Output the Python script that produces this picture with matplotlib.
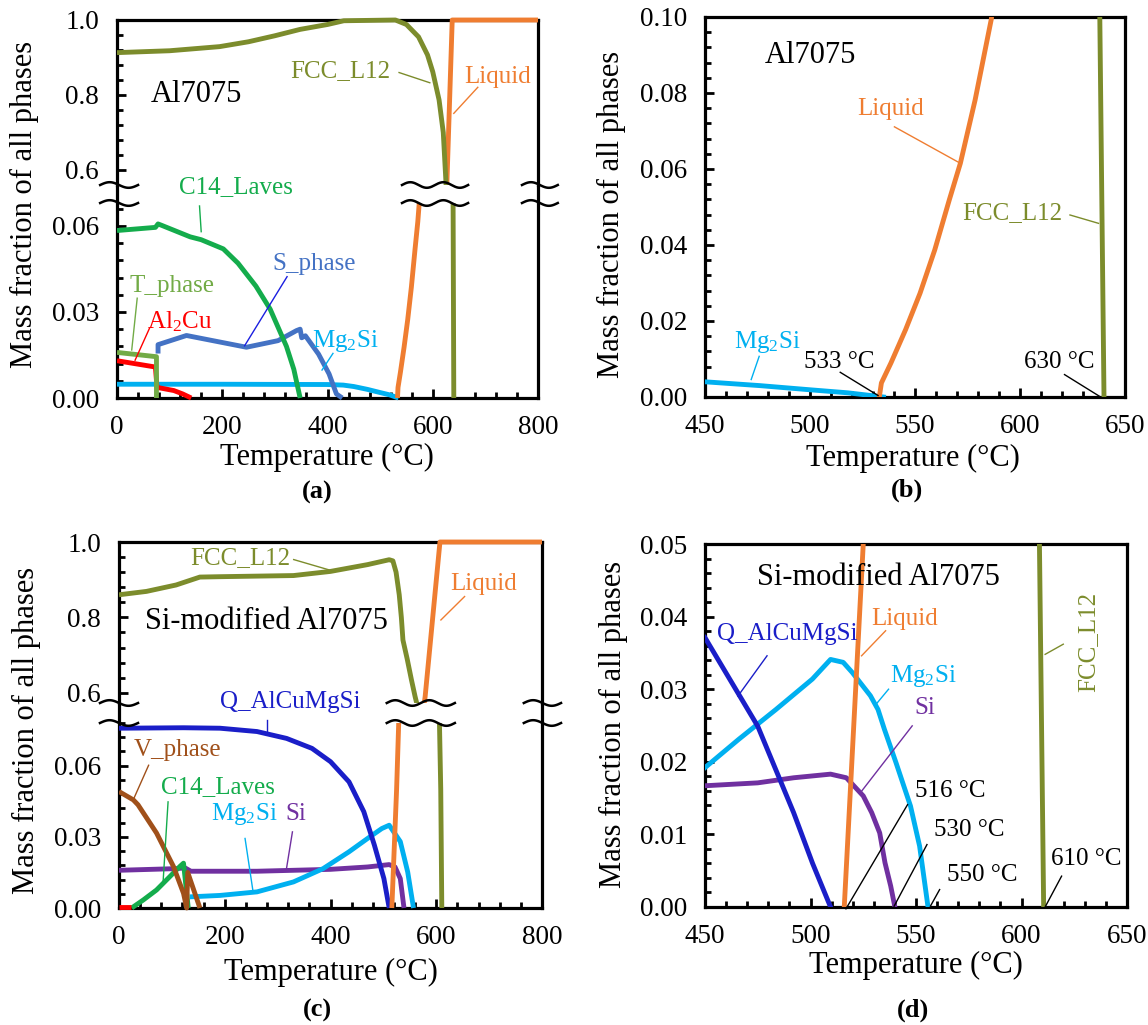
import numpy as np
import matplotlib
matplotlib.use('Agg')
import matplotlib.pyplot as plt
from matplotlib.ticker import FixedLocator, MultipleLocator, FormatStrFormatter
from matplotlib.transforms import Bbox, TransformedBbox

plt.rcParams['font.family'] = ['Liberation Serif', 'DejaVu Serif']
plt.rcParams['mathtext.fontset'] = 'custom'
plt.rcParams['mathtext.rm'] = 'Liberation Serif'
plt.rcParams['mathtext.default'] = 'regular'

# ---------------- data: Al7075 (panels a, b) ----------------
fcc_T = [0, 100, 195, 250, 300, 348, 400, 431, 529, 550, 573, 590, 600, 612, 620, 625, 638, 640]
fcc_v = [0.913, 0.918, 0.929, 0.942, 0.958, 0.975, 0.988, 0.998, 1.0, 0.988, 0.955, 0.907,
         0.862, 0.787, 0.70, 0.57, 0.10, 0.0]
liq_T = [533, 534, 538.5, 545.5, 552.4, 559.4, 566.4, 571.6, 578.6, 586.4, 627, 637, 800]
liq_v = [0.0, 0.0037, 0.0089, 0.0177, 0.0273, 0.0387, 0.052, 0.0615, 0.0781, 0.0996, 0.57, 1.0, 1.0]
mg2si_T = [0, 200, 400, 430, 450, 476, 500, 518, 535]
mg2si_v = [0.0048, 0.0048, 0.0047, 0.0045, 0.0040, 0.0030, 0.0019, 0.0011, 0.0]
c14_T = [0, 40, 73, 78, 85, 139, 160, 202, 230, 264, 291, 322, 336, 348]
c14_v = [0.0584, 0.059, 0.0595, 0.0607, 0.0602, 0.0562, 0.0552, 0.052, 0.047, 0.039, 0.031, 0.018,
         0.010, 0.0]
sph_T = [78, 78, 132, 246, 306, 341, 348, 351, 358, 383, 403, 417, 428]
sph_v = [0.0155, 0.0186, 0.0218, 0.0177, 0.020, 0.0235, 0.024, 0.021, 0.0217, 0.0153, 0.0084, 0.0014, 0.0]
tph_T = [0, 75, 75]
tph_v = [0.0159, 0.0144, 0.0]
al2cu_T = [0, 73, 76, 108, 125, 141]
al2cu_v = [0.0130, 0.0108, 0.0037, 0.0026, 0.0014, 0.0]

# ---------------- data: Si-modified Al7075 (panels c, d) ----------------
fcc2_T = [0, 52, 108, 153, 191, 330, 400, 470, 511, 518, 524, 530, 534, 537, 545, 553, 560, 563, 608.5, 610.5]
fcc2_v = [0.86, 0.869, 0.886, 0.907, 0.908, 0.911, 0.922, 0.94, 0.953, 0.95, 0.92, 0.86, 0.80, 0.74,
          0.69, 0.635, 0.59, 0.573, 0.05, 0.0]
liq2_T = [516, 520.5, 525, 529, 579, 607, 800]
liq2_v = [0.0, 0.025, 0.05, 0.078, 0.59, 1.0, 1.0]
q_c_T = [0, 122, 191, 261, 317, 365, 400, 435, 463, 483, 501, 511]
q_c_v = [0.0758, 0.076, 0.0758, 0.0744, 0.0715, 0.0673, 0.0617, 0.0532, 0.0406, 0.0265, 0.0124, 0.0]
q_d_T = [450, 475, 492, 501, 509.5]
q_d_v = [0.0371, 0.0249, 0.013, 0.006, 0.0]
mg_c_T = [134, 191, 261, 330, 386, 435, 470, 497, 511, 532, 546, 557]
mg_c_v = [0.0047, 0.0053, 0.0068, 0.011, 0.0166, 0.0237, 0.0293, 0.0335, 0.0349, 0.028, 0.0152, 0.0]
mg_d_T = [450, 466, 483.6, 500.9, 509.5, 515.5, 519.8, 528.4, 532, 535, 540.5, 547.4, 551.7, 555.7]
mg_d_v = [0.0192, 0.0231, 0.0272, 0.0314, 0.0341, 0.0337, 0.0323, 0.0291, 0.0272, 0.0245, 0.0199,
          0.0139, 0.0084, 0.0]
si_c_T = [0, 108, 125, 136, 261, 400, 470, 511, 522, 532, 539]
si_c_v = [0.0159, 0.0166, 0.0169, 0.0155, 0.0155, 0.0163, 0.0173, 0.0183, 0.0173, 0.0124, 0.0]
si_d_T = [450, 475, 492, 509.5, 517, 525, 529, 532.8, 535.3, 538, 540]
si_d_v = [0.0167, 0.0171, 0.0178, 0.0183, 0.0178, 0.0153, 0.013, 0.0102, 0.0061, 0.0029, 0.0]
vph_T = [0, 27, 36, 71, 103, 122, 128, 130, 153]
vph_v = [0.0491, 0.0456, 0.0435, 0.0316, 0.0175, 0.0062, 0.0, 0.015, 0.0]
c14b_T = [24, 46, 71, 96, 115, 122, 131]
c14b_v = [0.0, 0.0034, 0.0076, 0.0132, 0.0175, 0.0189, 0.0]
al2cu_c_T = [0, 22]
al2cu_c_v = [0.0006, 0.0006]

C = dict(fcc='#7c8c2c', liq='#ef7d31', c14='#14ac4c', sph='#4472c4', tph='#72ab46',
         al2cu='#ff0000', mg2si='#00b0f0', q='#1a1ec8', vph='#a0501a', si='#7030a0')

W, H = 1148, 1025
fig = plt.figure(figsize=(W / 100, H / 100), dpi=100)
LW = 3.5
TICK_FS = 19.5


def make_axes(l, r, t, b):
    return fig.add_axes([l / W, 1 - b / H, (r - l) / W, (b - t) / H])


def style(ax, xmaj, xmin):
    for s in ax.spines.values():
        s.set_linewidth(2.3)
    ax.tick_params(which='both', direction='in', top=False, right=False, width=2.0, labelsize=TICK_FS)
    ax.tick_params(which='major', length=6.5)
    ax.tick_params(which='minor', length=4)
    ax.tick_params(axis='x', pad=12)
    ax.tick_params(axis='y', pad=13)
    ax.xaxis.set_major_locator(MultipleLocator(xmaj))
    ax.xaxis.set_minor_locator(MultipleLocator(xmin))


def axis_titles(xlab, ylab):
    fig.text(xlab[0] / W, 1 - xlab[1] / H, 'Temperature (°C)', fontsize=22, ha='center', va='center')
    fig.text(ylab[0] / W, 1 - ylab[1] / H, 'Mass fraction of all phases', fontsize=22,
             ha='center', va='center', rotation=90)


def broken_panel(l, r, t, b, px_lo, gap, lo_top, up_bot):
    up = make_axes(l, r, t, b - px_lo - gap)
    lo = make_axes(l, r, b - px_lo, b)
    for ax in (up, lo):
        style(ax, 200, 40)
        ax.set_xlim(0, 800)
    up.set_ylim(up_bot, 1.0)
    lo.set_ylim(0, lo_top)
    up.spines['bottom'].set_visible(False)
    lo.spines['top'].set_visible(False)
    up.tick_params(axis='x', which='both', bottom=False, labelbottom=False)
    up.yaxis.set_major_locator(FixedLocator([0.6, 0.8, 1.0]))
    up.yaxis.set_minor_locator(FixedLocator([0.6 + 0.04 * k for k in range(1, 10)]))
    up.yaxis.set_major_formatter(FormatStrFormatter('%.1f'))
    lo.yaxis.set_major_locator(FixedLocator([0, 0.03, 0.06]))
    lo.yaxis.set_minor_locator(MultipleLocator(0.006))
    lo.yaxis.set_major_formatter(FormatStrFormatter('%.2f'))
    # spines continue through the gap
    g = gap / px_lo
    for x in (0, 1):
        lo.plot([x, x], [1, 1 + g], transform=lo.transAxes, color='k', lw=2.3, clip_on=False,
                solid_capstyle='butt')
    return up, lo, g


def plot_broken(up, lo, T, v, color):
    for ax, box in ((up, [[0, 0], [1, 1.05]]), (lo, [[0, -0.05], [1, 1]])):
        ln, = ax.plot(T, v, color=color, lw=LW, zorder=3, solid_capstyle='butt')
        ln.set_clip_box(TransformedBbox(Bbox(box), ax.transAxes))


def wave(x0, x1, fy, n, amp):
    t = np.linspace(0, 1, 80 * n)
    return x0 + (x1 - x0) * t, fy + amp * np.sin(2 * np.pi * n * t)


def breaks(lo, g, mid, sides, amp):
    for (x0, x1), n in [(mid, 2)] + [(s, 1) for s in sides]:
        for fy in (1.0, 1.0 + g):
            xs, yy = wave(x0, x1, fy, n, amp)
            lo.plot(xs, yy, transform=lo.transAxes, color='k', lw=1.8, zorder=7, clip_on=False)


def note(ax, s, fx, fy, color, size=18, lead=None, rot=0):
    ax.text(fx, fy, s, transform=ax.transAxes, color=color, fontsize=size, ha='center', va='center',
            rotation=rot, zorder=8)
    if lead is not None:
        (a, b), (c, d) = lead
        ax.plot([a, c], [b, d], transform=ax.transAxes, color=color, lw=1.0, zorder=8, clip_on=False)


def full_frame(box):
    # invisible axes covering the whole panel, used to place notes in panel fractions
    l, r, t, b = box
    ax = make_axes(l, r, t, b)
    ax.set_axis_off()
    return ax


# ---------------- (a) ----------------
box_a = (117, 538, 20, 398)
up, lo, g = broken_panel(*box_a, px_lo=195, gap=18, lo_top=0.068, up_bot=0.56)
for T, v, c in [(mg2si_T, mg2si_v, 'mg2si'), (al2cu_T, al2cu_v, 'al2cu'), (tph_T, tph_v, 'tph'),
                (sph_T, sph_v, 'sph'), (c14_T, c14_v, 'c14'), (liq_T, liq_v, 'liq'), (fcc_T, fcc_v, 'fcc')]:
    plot_broken(up, lo, T, v, C[c])
breaks(lo, g, (0.677, 0.834), [(-0.04, 0.05), (0.962, 1.047)], 2.8 / 195)
axis_titles((327, 457), (24, 204))
fa = full_frame(box_a)
note(fa, 'FCC_L12', 0.530, 0.865, C['fcc'], lead=((0.670, 0.861), (0.743, 0.834)))
note(fa, 'Liquid', 0.904, 0.850, C['liq'], lead=((0.857, 0.822), (0.800, 0.753)))
note(fa, 'Al7075', 0.189, 0.802, 'k', size=22)
note(fa, 'C14_Laves', 0.283, 0.559, C['c14'], lead=((0.196, 0.508), (0.200, 0.440)))
note(fa, 'S_phase', 0.468, 0.354, C['sph'])
fa.plot([0.404, 0.303], [0.321, 0.138], transform=fa.transAxes, color='#1a1ee0', lw=1.0, zorder=8)
note(fa, 'T_phase', 0.130, 0.295, C['tph'], lead=((0.048, 0.264), (0.035, 0.127)))
note(fa, 'Al$_2$Cu', 0.148, 0.202, C['al2cu'], lead=((0.077, 0.184), (0.043, 0.100)))
note(fa, 'Mg$_2$Si', 0.543, 0.152, C['mg2si'], lead=((0.513, 0.118), (0.487, 0.074)))

# ---------------- (b) ----------------
ax = make_axes(705, 1125, 17, 397)
style(ax, 50, 10)
ax.set_xlim(450, 650)
ax.set_ylim(0, 0.10)
ax.yaxis.set_major_locator(MultipleLocator(0.02))
ax.yaxis.set_minor_locator(MultipleLocator(0.004))
ax.yaxis.set_major_formatter(FormatStrFormatter('%.2f'))
for T, v, c in [(mg2si_T, mg2si_v, 'mg2si'), (liq_T, liq_v, 'liq'), (fcc_T, fcc_v, 'fcc')]:
    ax.plot(T, v, color=C[c], lw=LW, zorder=3)
axis_titles((913, 458), (611, 214))
note(ax, 'Al7075', 0.251, 0.899, 'k', size=22)
note(ax, 'Liquid', 0.443, 0.759, C['liq'], lead=((0.451, 0.711), (0.608, 0.615)))
note(ax, 'FCC_L12', 0.732, 0.485, C['fcc'], lead=((0.869, 0.479), (0.937, 0.457)))
note(ax, 'Mg$_2$Si', 0.148, 0.144, C['mg2si'], lead=((0.129, 0.107), (0.110, 0.046)))
note(ax, '533 °C', 0.320, 0.091, 'k', lead=((0.322, 0.065), (0.412, 0.004)))
note(ax, '630 °C', 0.843, 0.091, 'k', lead=((0.856, 0.059), (0.939, 0.002)))

# ---------------- (c) ----------------
box_c = (119, 542, 542, 908)
up, lo, g = broken_panel(*box_c, px_lo=185, gap=20, lo_top=0.078, up_bot=0.573)
for T, v, c in [(si_c_T, si_c_v, 'si'), (mg_c_T, mg_c_v, 'mg2si'), (c14b_T, c14b_v, 'c14'),
                (vph_T, vph_v, 'vph'), (q_c_T, q_c_v, 'q'), (liq2_T, liq2_v, 'liq'),
                (fcc2_T, fcc2_v, 'fcc'), (al2cu_c_T, al2cu_c_v, 'al2cu')]:
    plot_broken(up, lo, T, v, C[c])
breaks(lo, g, (0.633, 0.794), [(-0.045, 0.045), (0.957, 1.045)], 2.8 / 185)
axis_titles((331, 972), (26, 730))
fc = full_frame(box_c)
note(fc, 'FCC_L12', 0.287, 0.956, C['fcc'], lead=((0.413, 0.952), (0.496, 0.924)))
note(fc, 'Liquid', 0.863, 0.885, C['liq'], lead=((0.817, 0.851), (0.761, 0.787)))
note(fc, 'Si-modified Al7075', 0.348, 0.783, 'k', size=22)
note(fc, 'Q_AlCuMgSi', 0.404, 0.564, C['q'], lead=((0.350, 0.514), (0.350, 0.477)))
note(fc, 'V_phase', 0.139, 0.432, C['vph'], lead=((0.070, 0.390), (0.035, 0.299)))
note(fc, 'C14_Laves', 0.235, 0.331, C['c14'], lead=((0.116, 0.290), (0.104, 0.067)))
note(fc, 'Mg$_2$Si', 0.296, 0.258, C['mg2si'], lead=((0.298, 0.190), (0.317, 0.044)))
note(fc, 'Si', 0.417, 0.258, C['si'], lead=((0.410, 0.208), (0.396, 0.108)))

# ---------------- (d) ----------------
ax = make_axes(705, 1127, 544, 907)
style(ax, 50, 10)
ax.set_xlim(450, 650)
ax.set_ylim(0, 0.05)
ax.yaxis.set_major_locator(MultipleLocator(0.01))
ax.yaxis.set_minor_locator(MultipleLocator(0.002))
ax.yaxis.set_major_formatter(FormatStrFormatter('%.2f'))
for T, v, c in [(si_d_T, si_d_v, 'si'), (mg_d_T, mg_d_v, 'mg2si'), (q_d_T, q_d_v, 'q'),
                (liq2_T, liq2_v, 'liq'), (fcc2_T, fcc2_v, 'fcc')]:
    ax.plot(T, v, color=C[c], lw=LW, zorder=3)
axis_titles((916, 965), (613, 724))
note(ax, 'Si-modified Al7075', 0.411, 0.908, 'k', size=22)
note(ax, 'Liquid', 0.474, 0.793, C['liq'], lead=((0.428, 0.761), (0.371, 0.692)))
note(ax, 'Q_AlCuMgSi', 0.194, 0.752, C['q'], lead=((0.147, 0.692), (0.078, 0.581)))
note(ax, 'Mg$_2$Si', 0.517, 0.637, C['mg2si'], lead=((0.435, 0.600), (0.405, 0.558)))
note(ax, 'Si', 0.520, 0.549, C['si'], lead=((0.491, 0.499), (0.371, 0.319)))
note(ax, '516 °C', 0.582, 0.319, 'k', lead=((0.480, 0.282), (0.334, -0.005)))
note(ax, '530 °C', 0.625, 0.213, 'k', lead=((0.526, 0.172), (0.448, 0.002)))
note(ax, '550 °C', 0.658, 0.089, 'k', lead=((0.556, 0.048), (0.534, 0.002)))
note(ax, '610 °C', 0.903, 0.131, 'k', lead=((0.845, 0.085), (0.806, 0.000)))
note(ax, 'FCC_L12', 0.909, 0.729, C['fcc'], rot=90, lead=((0.849, 0.724), (0.806, 0.696)))

for s, x, y in [('(a)', 317, 492), ('(b)', 907, 490), ('(c)', 317, 1010), ('(d)', 913, 1010)]:
    fig.text(x / W, 1 - y / H, s, fontsize=19, fontweight='bold', ha='center', va='center')

fig.savefig('out.png', dpi=100)
